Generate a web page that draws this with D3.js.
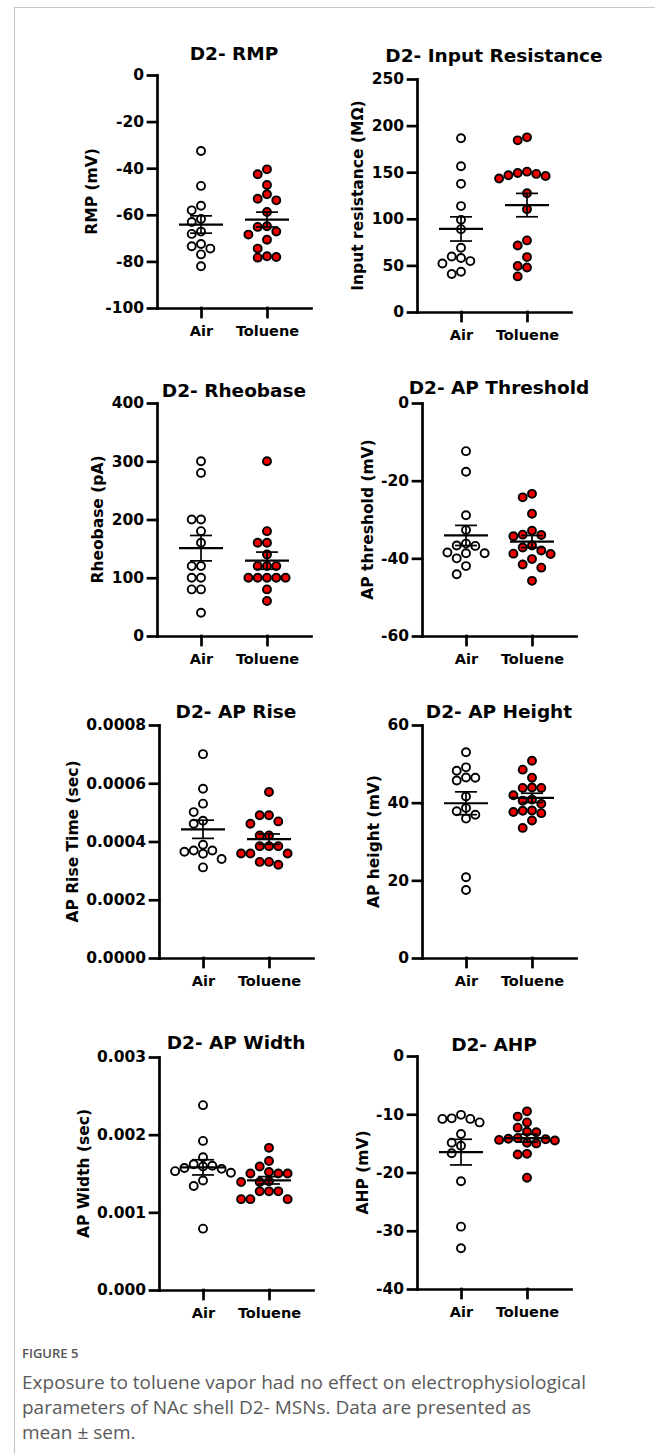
<!DOCTYPE html>
<html>
<head>
<meta charset="utf-8">
<script src="https://cdn.jsdelivr.net/npm/d3@7"></script>
<style>
  body { margin: 0; background: #fff; }
  svg text { font-family: "DejaVu Sans", sans-serif; font-weight: bold; fill: #000; }
  .title { font-size: 18.5px; }
  .y-axis text, .y-label { font-size: 15.5px; }
  .x-axis text { font-size: 14.5px; }
  .caption text { font-family: "Open Sans", sans-serif; font-weight: normal; fill: #5a5a5a; font-size: 19px; }
  .caption .fig { font-size: 13px; font-weight: 600; fill: #555; }
</style>
</head>
<body>
<svg id="fig" width="655" height="1454"></svg>
<script>
const groups = ["Air", "Toluene"];

const titles = ["D2- RMP", "D2- Input Resistance", "D2- Rheobase", "D2- AP Threshold",
  "D2- AP Rise", "D2- AP Height", "D2- AP Width", "D2- AHP"];
const yLabels = ["RMP (mV)", "Input resistance (MΩ)", "Rheobase (pA)", "AP threshold (mV)",
  "AP Rise Time (sec)", "AP height (mV)", "AP Width (sec)", "AHP (mV)"];

// values, one array per group
const rmpAir = [-32.6, -47.6, -56.1, -58.1, -61.8, -63.1, -67.2, -68.2, -72.5, -73.5, -74.5, -77.0, -82.1];
const rmpTol = [-40.5, -42.6, -47.2, -51.2, -53.8, -53.1, -58.8, -65.2, -64.9, -67.2, -68.5, -70.7, -74.5, -77.8, -78.4, -78.1];
const inputAir = [186.4, 156.4, 137.5, 113.6, 98.9, 88.9, 68.9, 59.6, 57.9, 52.1, 54.6, 40.7, 43.2];
const inputTol = [187.4, 184.2, 150.6, 149.2, 148.2, 146.0, 146.7, 143.2, 127.4, 110.3, 76.8, 71.4, 58.9, 49.3, 47.8, 38.2];
const rheoAir = [300, 280, 200, 200, 180, 160, 120, 120, 100, 100, 80, 80, 40];
const rheoTol = [300, 180, 160, 160, 140, 120, 120, 120, 100, 100, 100, 100, 100, 80, 60];
const threshAir = [-12.4, -17.7, -28.9, -32.7, -36.2, -36.7, -36.8, -38.7, -38.7, -38.5, -40.0, -42.0, -44.1];
const threshTol = [-23.4, -24.3, -28.5, -32.9, -34.0, -34.3, -33.9, -36.7, -37.2, -38.0, -38.9, -38.8, -40.2, -41.6, -42.4, -45.8];
const riseAir = [0.000700, 0.000581, 0.000530, 0.000501, 0.000471, 0.000461, 0.000389, 0.000369, 0.000369, 0.000365, 0.000358, 0.000340, 0.000311];
const riseTol = [0.000570, 0.000490, 0.000490, 0.000469, 0.000461, 0.000421, 0.000421, 0.000384, 0.000384, 0.000384, 0.000359, 0.000359, 0.000359, 0.000330, 0.000330, 0.000320];
const heightAir = [53.0, 49.1, 48.2, 46.4, 45.7, 46.5, 41.6, 37.8, 38.6, 36.9, 35.9, 20.8, 17.5];
const heightTol = [50.8, 48.5, 46.4, 43.9, 43.8, 43.8, 41.9, 40.5, 40.8, 39.7, 37.6, 38.0, 37.3, 37.9, 35.4, 33.5];
const widthAir = [0.00238, 0.00192, 0.00171, 0.00162, 0.00160, 0.00159, 0.00157, 0.00156, 0.00153, 0.00151, 0.00141, 0.00134, 0.00079];
const widthTol = [0.00183, 0.00166, 0.00159, 0.00152, 0.00150, 0.00150, 0.00150, 0.00140, 0.00139, 0.00139, 0.00127, 0.00127, 0.00127, 0.00117, 0.00117, 0.00117];
const ahpAir = [-10.1, -10.7, -10.8, -10.8, -11.4, -13.4, -14.9, -15.4, -16.7, -21.5, -29.3, -33.0];
const ahpTol = [-9.5, -10.4, -11.4, -12.3, -13.0, -13.1, -14.1, -14.2, -14.3, -14.4, -14.5, -14.9, -15.0, -16.8, -16.9, -20.9];

const rmpTicks = [-100, -80, -60, -40, -20, 0];
const inputTicks = [0, 50, 100, 150, 200, 250];
const rheoTicks = [0, 100, 200, 300, 400];
const threshTicks = [-60, -40, -20, 0];
const riseTicks = [0, 0.0002, 0.0004, 0.0006, 0.0008];
const heightTicks = [0, 20, 40, 60];
const widthTicks = [0, 0.001, 0.002, 0.003];
const ahpTicks = [-40, -30, -20, -10, 0];

const captionLines = [
  "Exposure to toluene vapor had no effect on electrophysiological",
  "parameters of NAc shell D2- MSNs. Data are presented as",
  "mean ± sem."
];

// plain hyphen for negative ticks, like the original
const locale = d3.formatLocale({ decimal: ".", thousands: ",", grouping: [3], currency: ["", ""], minus: "-" });

// greedy column swarm: each dot goes to the nearest free column
function swarm(values, y, step, diam) {
  const placed = [];
  const out = new Array(values.length);
  const order = d3.range(values.length).sort((a, b) => d3.descending(values[a], values[b]));
  for (const i of order) {
    const py = y(values[i]);
    for (let k = 0; k < 20; k++) {
      const cands = k === 0 ? [0] : [-k, k];
      const c = cands.find(c => placed.every(p => Math.hypot(p.x - c * step, p.y - py) >= diam));
      if (c !== undefined) {
        placed.push({ x: c * step, y: py });
        out[i] = c * step;
        break;
      }
    }
  }
  return out;
}

class DotPlot {
  width = 154;
  height = 233;

  constructor(svg, left, top, titleY) {
    this.svg = svg;
    this.left = left;
    this.top = top;
    this.titleY = titleY;
  }

  initialize() {
    this.container = this.svg.append("g").attr("transform", `translate(${this.left}, ${this.top})`);
    this.dots = this.container.append("g");
    this.bars = this.container.append("g");
    this.xAxis = this.container.append("g").attr("class", "x-axis");
    this.yAxis = this.container.append("g").attr("class", "y-axis");

    this.xScale = d3.scalePoint().domain(groups).range([0, this.width]).padding(0.667);
    this.yScale = d3.scaleLinear().range([this.height, 0]);
  }

  update(air, tol, ticks, fmt, title, label) {
    this.yScale.domain(d3.extent(ticks));
    const sets = [air, tol];

    this.yAxis.call(d3.axisLeft(this.yScale).tickValues(ticks).tickFormat(fmt)
      .tickSize(9).tickPadding(4).tickSizeOuter(0));
    this.xAxis.attr("transform", `translate(0, ${this.height})`)
      .call(d3.axisBottom(this.xScale).tickSize(9).tickPadding(9).tickSizeOuter(0));
    this.container.selectAll(".domain, .tick line")
      .attr("stroke", "#000").attr("stroke-width", 2.7).attr("stroke-linecap", "square");

    const maxW = d3.max(this.yAxis.selectAll("text").nodes(), n => n.getComputedTextLength());
    this.container.append("text")
      .attr("class", "y-label")
      .attr("text-anchor", "middle")
      .attr("dy", "0.36em")
      .attr("transform", `translate(${-(9 + 4 + maxW + 14)}, ${this.height / 2}) rotate(-90)`)
      .text(label);

    this.svg.append("text")
      .attr("class", "title")
      .attr("text-anchor", "middle")
      .attr("x", this.left + this.width / 2)
      .attr("y", this.titleY)
      .text(title);

    const pts = [];
    sets.forEach((vals, g) => {
      const off = swarm(vals, this.yScale, 9.3, 9.0);
      vals.forEach((v, i) => pts.push({ g, v, dx: off[i] }));
    });

    this.dots.selectAll("circle")
      .data(pts)
      .join("circle")
      .attr("cx", d => this.xScale(groups[d.g]) + d.dx)
      .attr("cy", d => this.yScale(d.v))
      .attr("r", 4.0)
      .attr("fill", d => d.g === 0 ? "#fff" : "#ee0000")
      .attr("stroke", "#000")
      .attr("stroke-width", 1.9);

    const stats = sets.map((vals, g) => {
      const m = d3.mean(vals);
      const sem = d3.deviation(vals) / Math.sqrt(vals.length);
      return { g, m, lo: m - sem, hi: m + sem };
    });

    stats.forEach(s => {
      const cx = this.xScale(groups[s.g]);
      this.bars.append("line")
        .attr("x1", cx - 22).attr("x2", cx + 22)
        .attr("y1", this.yScale(s.m)).attr("y2", this.yScale(s.m))
        .attr("stroke", "#000").attr("stroke-width", 2.2);
      this.bars.append("line")
        .attr("x1", cx).attr("x2", cx)
        .attr("y1", this.yScale(s.lo)).attr("y2", this.yScale(s.hi))
        .attr("stroke", "#000").attr("stroke-width", 1.7);
      [s.lo, s.hi].forEach(v => {
        this.bars.append("line")
          .attr("x1", cx - 11).attr("x2", cx + 11)
          .attr("y1", this.yScale(v)).attr("y2", this.yScale(v))
          .attr("stroke", "#000").attr("stroke-width", 1.7);
      });
    });
  }
}

const svg = d3.select("#fig");

svg.append("path")
  .attr("d", "M655,7.5H14.5V1454")
  .attr("fill", "none")
  .attr("stroke", "#c8c8c8")
  .attr("stroke-width", 1.2);

const layout = [
  [157, 75, 60], [417, 79, 62],
  [157, 403, 397], [422, 403, 394],
  [159, 725, 718], [422, 725, 718],
  [159, 1057, 1049], [417, 1056, 1051]
];
const panelData = [
  [rmpAir, rmpTol, rmpTicks, locale.format("d")],
  [inputAir, inputTol, inputTicks, locale.format("d")],
  [rheoAir, rheoTol, rheoTicks, locale.format("d")],
  [threshAir, threshTol, threshTicks, locale.format("d")],
  [riseAir, riseTol, riseTicks, locale.format(".4f")],
  [heightAir, heightTol, heightTicks, locale.format("d")],
  [widthAir, widthTol, widthTicks, locale.format(".3f")],
  [ahpAir, ahpTol, ahpTicks, locale.format("d")]
];

panelData.forEach((p, i) => {
  const plot = new DotPlot(svg, ...layout[i]);
  plot.initialize();
  plot.update(p[0], p[1], p[2], p[3], titles[i], yLabels[i]);
});

const cap = svg.append("g").attr("class", "caption");
cap.append("text").attr("class", "fig").attr("x", 22).attr("y", 1358).text("FIGURE 5");
cap.selectAll("text.line")
  .data(captionLines)
  .join("text")
  .attr("class", "line")
  .attr("x", 22)
  .attr("y", (d, i) => 1389 + i * 25)
  .text(d => d);
</script>
</body>
</html>
